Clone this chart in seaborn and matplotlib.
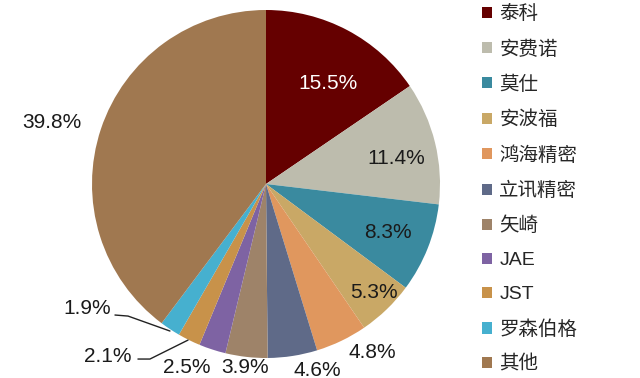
import matplotlib
matplotlib.use("Agg")
import matplotlib.pyplot as plt
import seaborn as sns

sns.set_theme(style="white")
plt.rcParams["font.family"] = ["Liberation Sans", "Noto Sans CJK SC", "DejaVu Sans"]

COMPANIES = ["泰科", "安费诺", "莫仕", "安波福", "鸿海精密", "立讯精密", "矢崎", "JAE", "JST", "罗森伯格", "其他"]
SHARES = [15.5, 11.4, 8.3, 5.3, 4.8, 4.6, 3.9, 2.5, 2.1, 1.9, 39.8]
COLORS = ["#650000", "#bdbcad", "#3a8a9f", "#c9a866", "#e0975e", "#5f6a88",
          "#9e8369", "#7e63a3", "#c8924a", "#46b0cf", "#a07850"]

# label positions (data units, pie radius = 1)
LABEL_POS = [(0.356, 0.580), (0.747, 0.149), (0.701, -0.276), (0.621, -0.621),
             (0.609, -0.971), (0.293, -1.069), (-0.121, -1.057), (-0.454, -1.057),
             (-0.908, -0.989), (-1.029, -0.718), (-1.230, 0.356)]
LABEL_COLORS = ["white"] + ["#1a1a1a"] * 10

fig = plt.figure(figsize=(6.4, 3.78), dpi=100)
ax = fig.add_axes([0, 0, 1, 1])
palette = sns.color_palette(COLORS)
wedges, _ = ax.pie(SHARES, colors=palette, startangle=90, counterclock=False,
                   radius=1.0, wedgeprops=dict(linewidth=0))

for share, (x, y), c in zip(SHARES, LABEL_POS, LABEL_COLORS):
    ax.text(x, y, f"{share:.1f}%", ha="center", va="center", fontsize=15, color=c)

# leader lines for the two smallest slices
ax.plot([-0.868, -0.793, -0.552], [-0.753, -0.759, -0.845], color="#222222", lw=1)
ax.plot([-0.736, -0.667, -0.448], [-1.006, -1.006, -0.897], color="#222222", lw=1)

ax.set_xlim(-266 / 174, (640 - 266) / 174)
ax.set_ylim(-(378 - 184) / 174, 184 / 174)
ax.set_aspect("auto")
ax.axis("off")

ax.legend(wedges, COMPANIES, loc="upper left", bbox_to_anchor=(0.753, 0.986),
          bbox_transform=fig.transFigure, frameon=False, fontsize=14,
          handlelength=0.5, handleheight=0.5, handletextpad=0.4, labelspacing=0.87,
          borderaxespad=0, borderpad=0)

fig.savefig("out.png", dpi=100)
